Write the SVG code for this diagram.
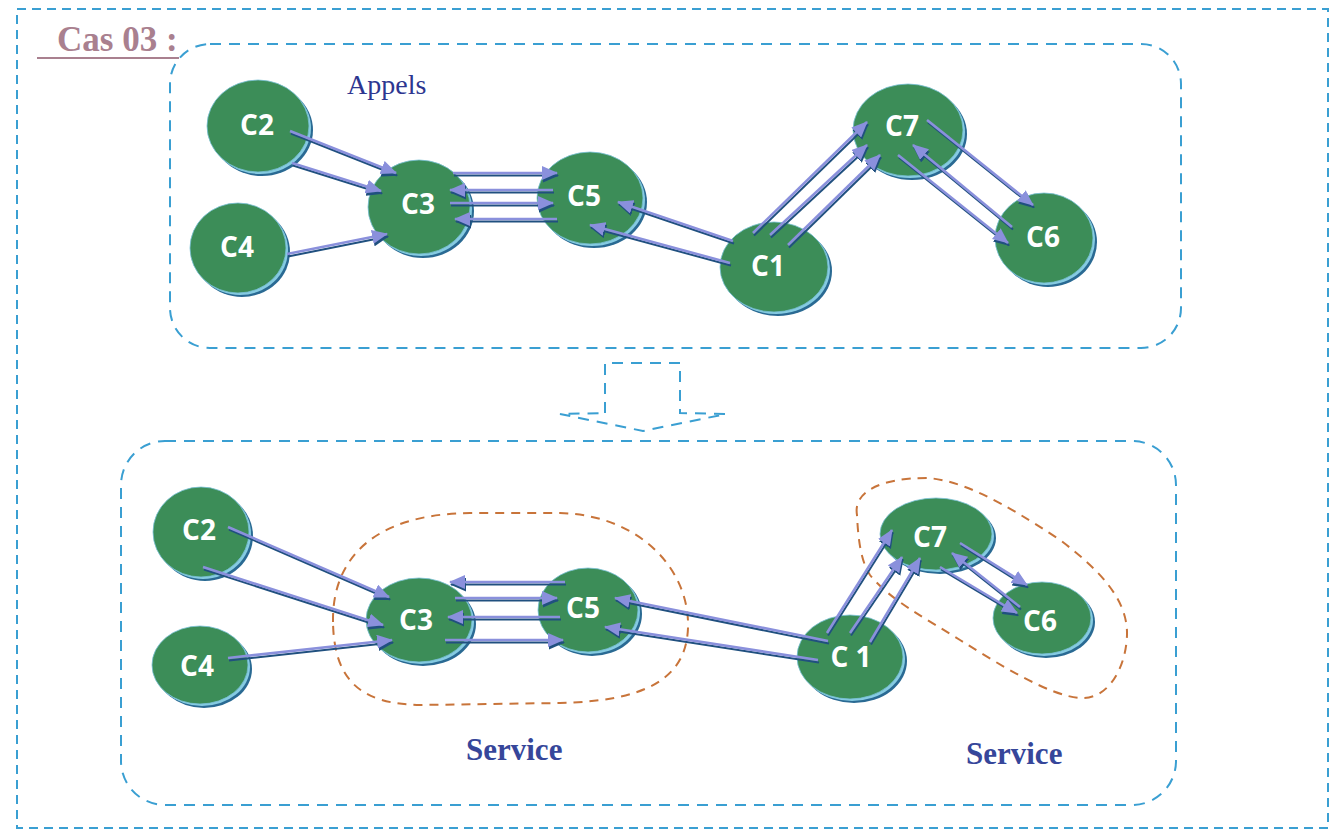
<svg xmlns="http://www.w3.org/2000/svg" width="1331" height="835" viewBox="0 0 1331 835">
  <style>
    .frame { fill: none; stroke: #3a9fd2; stroke-width: 2; stroke-dasharray: 9 6; }
    .zone { fill: none; stroke: #3a9fd2; stroke-width: 2; stroke-dasharray: 11 8; }
    .svc { fill: none; stroke: #c8743a; stroke-width: 2; stroke-dasharray: 9 7; }
    .rim-d { fill: #2a6a93; }
    .rim-l { fill: #86cbe2; }
    .body { fill: #3c8d58; stroke: #78c0d6; stroke-width: 0.8; }
    .lbl { font-family: "Open Sans", "Liberation Sans", sans-serif; font-weight: 700; font-size: 28px; fill: #ffffff; text-anchor: middle; }
    .ln { stroke: #8a90dc; stroke-width: 2.6; fill: none; marker-end: url(#head); }
    .sh { stroke: #20507f; stroke-width: 2; fill: none; marker-end: url(#headSh); }
    .title { font-family: "Liberation Serif", "Times New Roman", serif; font-weight: 700; font-size: 35px; fill: #a9808f; }
    .cap { font-family: "Liberation Serif", "Times New Roman", serif; font-size: 28px; fill: #2d3690; }
    .svct { font-family: "Liberation Serif", "Times New Roman", serif; font-weight: 700; font-size: 31px; fill: #36469a; }
  </style>
  <defs>
    <marker id="head" markerUnits="userSpaceOnUse" viewBox="0 0 16 14" markerWidth="16" markerHeight="14" refX="15" refY="7" orient="auto">
      <path d="M0,0 L16,7 L0,14 Z" fill="#8a90dc"/>
    </marker>
    <marker id="headSh" markerUnits="userSpaceOnUse" viewBox="0 0 16 14" markerWidth="16" markerHeight="14" refX="15" refY="7" orient="auto">
      <path d="M0,0 L16,7 L0,14 Z" fill="#20507f"/>
    </marker>
  </defs>

  <rect width="1331" height="835" fill="#ffffff"/>

  <!-- outer frame -->
  <rect class="frame" x="17" y="9" width="1311" height="819"/>

  <!-- heading -->
  <text class="title" x="57" y="51">Cas 03 :</text>
  <line x1="37" y1="58" x2="179" y2="58" stroke="#a9808f" stroke-width="2"/>

  <!-- upper zone: calls -->
  <rect class="zone" x="170" y="44" width="1011" height="304" rx="40" ry="40"/>
  <text class="cap" x="347" y="94">Appels</text>

  <!-- transition arrow -->
  <path class="zone" d="M605,413 L605,363 L680,363 L680,413 L726,414 L643,431 L560,414 Z"/>

  <!-- lower zone: services -->
  <rect class="zone" x="121" y="441" width="1055" height="364" rx="44" ry="44"/>
  <path class="svc" d="M333,622 C332,560 372,514 470,513 L560,513 C640,515 690,570 688,628 C686,682 640,701 560,703 L420,705 C360,704 334,680 333,622 Z"/>
  <path class="svc" d="M857,515 C853,492 880,478 927,478 C960,480 1000,500 1060,540 C1100,570 1128,600 1127,635 C1126,668 1108,700 1080,698 C1050,696 1000,665 960,640 C925,618 890,600 870,575 C860,560 858,535 857,515 Z"/>
  <text class="svct" x="466" y="760">Service</text>
  <text class="svct" x="966" y="764">Service</text>

  <!-- upper components -->
  <g id="top-c2"><ellipse class="rim-d" cx="262" cy="130" rx="51" ry="46"/><ellipse class="rim-l" cx="260" cy="128" rx="51" ry="46"/><ellipse class="body" cx="258" cy="126" rx="51" ry="46"/><text class="lbl" x="257" y="135">C2</text></g>
  <g id="top-c4"><ellipse class="rim-d" cx="242" cy="252" rx="48" ry="45"/><ellipse class="rim-l" cx="240" cy="250" rx="48" ry="45"/><ellipse class="body" cx="238" cy="248" rx="48" ry="45"/><text class="lbl" x="237" y="257">C4</text></g>
  <g id="top-c3"><ellipse class="rim-d" cx="423" cy="211" rx="51" ry="47"/><ellipse class="rim-l" cx="421" cy="209" rx="51" ry="47"/><ellipse class="body" cx="419" cy="207" rx="51" ry="47"/><text class="lbl" x="418" y="214">C3</text></g>
  <g id="top-c5"><ellipse class="rim-d" cx="594" cy="202" rx="53" ry="46"/><ellipse class="rim-l" cx="592" cy="200" rx="53" ry="46"/><ellipse class="body" cx="590" cy="198" rx="53" ry="46"/><text class="lbl" x="584" y="206">C5</text></g>
  <g id="top-c1"><ellipse class="rim-d" cx="778" cy="271" rx="54" ry="45"/><ellipse class="rim-l" cx="776" cy="269" rx="54" ry="45"/><ellipse class="body" cx="774" cy="267" rx="54" ry="45"/><text class="lbl" x="768" y="276">C1</text></g>
  <g id="top-c7"><ellipse class="rim-d" cx="912" cy="134" rx="55" ry="46"/><ellipse class="rim-l" cx="910" cy="132" rx="55" ry="46"/><ellipse class="body" cx="908" cy="130" rx="55" ry="46"/><text class="lbl" x="902" y="136">C7</text></g>
  <g id="top-c6"><ellipse class="rim-d" cx="1048" cy="242" rx="49" ry="45"/><ellipse class="rim-l" cx="1046" cy="240" rx="49" ry="45"/><ellipse class="body" cx="1044" cy="238" rx="49" ry="45"/><text class="lbl" x="1043" y="247">C6</text></g>

  <!-- lower components -->
  <g id="bot-c2"><ellipse class="rim-d" cx="205" cy="536" rx="48" ry="45"/><ellipse class="rim-l" cx="203" cy="534" rx="48" ry="45"/><ellipse class="body" cx="201" cy="532" rx="48" ry="45"/><text class="lbl" x="199" y="540">C2</text></g>
  <g id="bot-c4"><ellipse class="rim-d" cx="204" cy="669" rx="48" ry="39"/><ellipse class="rim-l" cx="202" cy="667" rx="48" ry="39"/><ellipse class="body" cx="200" cy="665" rx="48" ry="39"/><text class="lbl" x="197" y="676">C4</text></g>
  <g id="bot-c3"><ellipse class="rim-d" cx="423" cy="624" rx="53" ry="42"/><ellipse class="rim-l" cx="421" cy="622" rx="53" ry="42"/><ellipse class="body" cx="419" cy="620" rx="53" ry="42"/><text class="lbl" x="416" y="630">C3</text></g>
  <g id="bot-c5"><ellipse class="rim-d" cx="592" cy="614" rx="50" ry="42"/><ellipse class="rim-l" cx="590" cy="612" rx="50" ry="42"/><ellipse class="body" cx="588" cy="610" rx="50" ry="42"/><text class="lbl" x="583" y="618">C5</text></g>
  <g id="bot-c1"><ellipse class="rim-d" cx="854" cy="661" rx="53" ry="42"/><ellipse class="rim-l" cx="852" cy="659" rx="53" ry="42"/><ellipse class="body" cx="850" cy="657" rx="53" ry="42"/><text class="lbl" x="851" y="667">C 1</text></g>
  <g id="bot-c7"><ellipse class="rim-d" cx="940" cy="538" rx="56" ry="36"/><ellipse class="rim-l" cx="938" cy="536" rx="56" ry="36"/><ellipse class="body" cx="936" cy="534" rx="56" ry="36"/><text class="lbl" x="930" y="547">C7</text></g>
  <g id="bot-c6"><ellipse class="rim-d" cx="1046" cy="622" rx="49" ry="36"/><ellipse class="rim-l" cx="1044" cy="620" rx="49" ry="36"/><ellipse class="body" cx="1042" cy="618" rx="49" ry="36"/><text class="lbl" x="1040" y="631">C6</text></g>

  <!-- call links: dark offset stroke under a lavender stroke -->
  <g id="links">
    <g transform="translate(1,2.5)">
      <line class="sh" x1="290" y1="131" x2="396" y2="173"/>
      <line class="sh" x1="292" y1="163" x2="381" y2="191"/>
      <line class="sh" x1="287" y1="254" x2="387" y2="234"/>
      <line class="sh" x1="453" y1="173" x2="557" y2="173"/>
      <line class="sh" x1="553" y1="190" x2="450" y2="190"/>
      <line class="sh" x1="450" y1="203" x2="553" y2="203"/>
      <line class="sh" x1="557" y1="219" x2="455" y2="219"/>
      <line class="sh" x1="733" y1="241" x2="618" y2="202"/>
      <line class="sh" x1="730" y1="263" x2="590" y2="225"/>
      <line class="sh" x1="753" y1="233" x2="867" y2="122"/>
      <line class="sh" x1="770" y1="235" x2="867" y2="145"/>
      <line class="sh" x1="788" y1="245" x2="880" y2="155"/>
      <line class="sh" x1="927" y1="120" x2="1033" y2="205"/>
      <line class="sh" x1="1012" y1="227" x2="913" y2="145"/>
      <line class="sh" x1="898" y1="155" x2="1008" y2="243"/>

      <line class="sh" x1="228" y1="527" x2="389" y2="597"/>
      <line class="sh" x1="203" y1="567" x2="383" y2="625"/>
      <line class="sh" x1="228" y1="658" x2="392" y2="640"/>
      <line class="sh" x1="565" y1="582" x2="450" y2="582"/>
      <line class="sh" x1="455" y1="598" x2="557" y2="598"/>
      <line class="sh" x1="560" y1="617" x2="448" y2="617"/>
      <line class="sh" x1="445" y1="640" x2="563" y2="640"/>
      <line class="sh" x1="828" y1="641" x2="615" y2="598"/>
      <line class="sh" x1="818" y1="660" x2="605" y2="627"/>
      <line class="sh" x1="827" y1="633" x2="892" y2="530"/>
      <line class="sh" x1="850" y1="633" x2="902" y2="557"/>
      <line class="sh" x1="870" y1="642" x2="920" y2="558"/>
      <line class="sh" x1="960" y1="543" x2="1027" y2="585"/>
      <line class="sh" x1="1020" y1="607" x2="952" y2="553"/>
      <line class="sh" x1="940" y1="567" x2="1017" y2="613"/>
    </g>
    <g>
      <line class="ln" x1="290" y1="131" x2="396" y2="173"/>
      <line class="ln" x1="292" y1="163" x2="381" y2="191"/>
      <line class="ln" x1="287" y1="254" x2="387" y2="234"/>
      <line class="ln" x1="453" y1="173" x2="557" y2="173"/>
      <line class="ln" x1="553" y1="190" x2="450" y2="190"/>
      <line class="ln" x1="450" y1="203" x2="553" y2="203"/>
      <line class="ln" x1="557" y1="219" x2="455" y2="219"/>
      <line class="ln" x1="733" y1="241" x2="618" y2="202"/>
      <line class="ln" x1="730" y1="263" x2="590" y2="225"/>
      <line class="ln" x1="753" y1="233" x2="867" y2="122"/>
      <line class="ln" x1="770" y1="235" x2="867" y2="145"/>
      <line class="ln" x1="788" y1="245" x2="880" y2="155"/>
      <line class="ln" x1="927" y1="120" x2="1033" y2="205"/>
      <line class="ln" x1="1012" y1="227" x2="913" y2="145"/>
      <line class="ln" x1="898" y1="155" x2="1008" y2="243"/>

      <line class="ln" x1="228" y1="527" x2="389" y2="597"/>
      <line class="ln" x1="203" y1="567" x2="383" y2="625"/>
      <line class="ln" x1="228" y1="658" x2="392" y2="640"/>
      <line class="ln" x1="565" y1="582" x2="450" y2="582"/>
      <line class="ln" x1="455" y1="598" x2="557" y2="598"/>
      <line class="ln" x1="560" y1="617" x2="448" y2="617"/>
      <line class="ln" x1="445" y1="640" x2="563" y2="640"/>
      <line class="ln" x1="828" y1="641" x2="615" y2="598"/>
      <line class="ln" x1="818" y1="660" x2="605" y2="627"/>
      <line class="ln" x1="827" y1="633" x2="892" y2="530"/>
      <line class="ln" x1="850" y1="633" x2="902" y2="557"/>
      <line class="ln" x1="870" y1="642" x2="920" y2="558"/>
      <line class="ln" x1="960" y1="543" x2="1027" y2="585"/>
      <line class="ln" x1="1020" y1="607" x2="952" y2="553"/>
      <line class="ln" x1="940" y1="567" x2="1017" y2="613"/>
    </g>
  </g>
</svg>
